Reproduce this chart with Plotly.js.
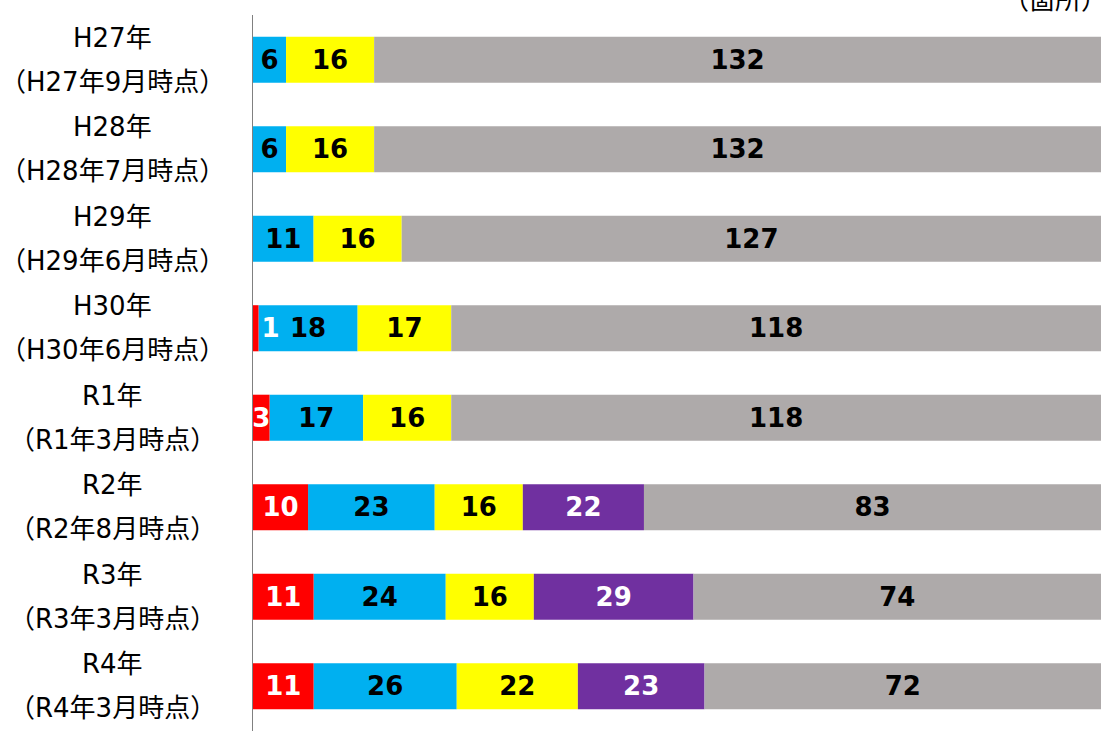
<!DOCTYPE html>
<html><head><meta charset="utf-8">
<script src="https://cdn.plot.ly/plotly-3.0.1.min.js"></script>
<style>html,body{margin:0;padding:0;background:#fff;}#chart{width:1102px;height:731px;}</style>
</head><body><div id="chart"></div>
<script>
const yearLabels = ["H27年","H28年","H29年","H30年","R1年","R2年","R3年","R4年"];
const dateLabels = ["（H27年9月時点）","（H28年7月時点）","（H29年6月時点）","（H30年6月時点）","（R1年3月時点）","（R2年8月時点）","（R3年3月時点）","（R4年3月時点）"];
const seriesRed    = [null, null, null, 1, 3, 10, 11, 11];
const seriesBlue   = [6, 6, 11, 18, 17, 23, 24, 26];
const seriesYellow = [16, 16, 16, 17, 16, 16, 16, 22];
const seriesPurple = [null, null, null, null, null, 22, 29, 23];
const seriesGray   = [132, 132, 127, 118, 118, 83, 74, 72];
const unitLabel = "（箇所）";

const cats = yearLabels.map((y,i)=>y+"|"+i);
const labelFont = "DejaVu Sans, Verdana, sans-serif";
const stackOrder = [
  {vals:seriesRed, color:'#FF0000', txt:'#FFFFFF'},
  {vals:seriesBlue, color:'#00B0F0', txt:'#000000'},
  {vals:seriesYellow, color:'#FFFF00', txt:'#000000'},
  {vals:seriesPurple, color:'#7030A0', txt:'#FFFFFF'},
  {vals:seriesGray, color:'#AEAAAA', txt:'#000000'}
];
const running = cats.map(()=>0);
const traces = stackOrder.map(s=>{
  const base = running.slice();
  s.vals.forEach((v,i)=>{ running[i] += (v||0); });
  return {type:'bar', orientation:'h', y:cats, x:s.vals, base:base,
    marker:{color:s.color, line:{width:0}},
    text: s.vals.map(v=> v==null? '' : String(v)),
    textposition: s.vals.map(v=> (v!=null && v<2) ? 'outside' : 'inside'),
    insidetextanchor:'middle', constraintext:'none',
    textfont:{family:labelFont, size:26, color:s.txt, weight:'bold'},
    outsidetextfont:{family:labelFont, size:26, color:s.txt, weight:'bold'},
    hoverinfo:'x', showlegend:false, cliponaxis:false};
});
// draw red last so its small labels sit on top of neighbouring bars
const data = traces.slice(1).concat([traces[0]]);

const ann = [];
const lblFam = "'DejaVu Sans', 'Noto Sans CJK JP', sans-serif";
cats.forEach((c,i)=>{
  ann.push({xref:'paper', yref:'y', x:-0.166, y:c, yshift:22, xanchor:'center', yanchor:'middle', showarrow:false, text:yearLabels[i], font:{family:lblFam, size:26, color:'#000'}});
  ann.push({xref:'paper', yref:'y', x:-0.166, y:c, yshift:-22, xanchor:'center', yanchor:'middle', showarrow:false, text:dateLabels[i], font:{family:lblFam, size:26, color:'#000'}});
});
ann.push({xref:'paper', yref:'paper', x:1, xshift:8, y:1.021, xanchor:'right', yanchor:'middle', showarrow:false, text:unitLabel, font:{family:lblFam, size:26, color:'#000'}});
const layout = {
  width:1102, height:731,
  margin:{l:253, r:1, t:15, b:0, pad:0},
  barmode:'overlay', bargap:0.485,
  paper_bgcolor:'#fff', plot_bgcolor:'#fff',
  uniformtext:{mode:'show', minsize:26},
  xaxis:{range:[0,154], visible:false, fixedrange:true},
  yaxis:{autorange:'reversed', showticklabels:false, ticks:'', showgrid:false, zeroline:false,
         showline:true, linecolor:'#808080', linewidth:1},
  annotations:ann
};
Plotly.newPlot('chart', data, layout, {displayModeBar:false, staticPlot:true});
</script></body></html>
